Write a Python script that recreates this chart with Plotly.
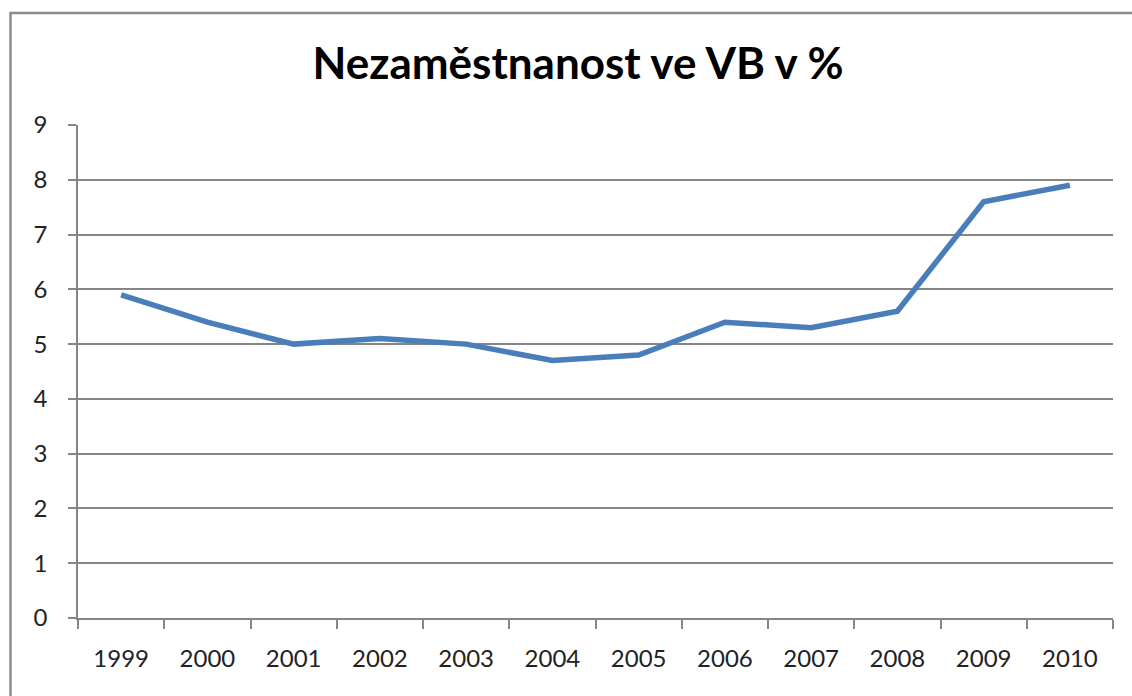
import plotly.graph_objects as go

years = ["1999", "2000", "2001", "2002", "2003", "2004", "2005", "2006", "2007", "2008", "2009", "2010"]
unemployment = [5.9, 5.4, 5.0, 5.1, 5.0, 4.7, 4.8, 5.4, 5.3, 5.6, 7.6, 7.9]
y_ticks = [0, 1, 2, 3, 4, 5, 6, 7, 8, 9]

W, H = 1132, 696
L, R, T, B = 78, 19, 124.5, 78
pw, ph = W - L - R, H - T - B

fig = go.Figure()
fig.add_trace(go.Scatter(x=years, y=unemployment, mode="lines",
                         line=dict(color="#4A7EBB", width=5.5), hoverinfo="x+y"))

grid = "#868686"
fig.update_layout(
    width=W, height=H,
    margin=dict(l=L, r=R, t=T, b=B, pad=0),
    paper_bgcolor="white", plot_bgcolor="white",
    showlegend=False,
    font=dict(family="Lato, Carlito, 'Open Sans', sans-serif", color="#222222"),
    title=dict(text="<b>Nezaměstnanost ve VB v %</b>", x=578 / W, xanchor="center",
               y=1 - 64 / H, yanchor="middle", yref="container",
               font=dict(size=44, color="#000000")),
    xaxis=dict(type="category", range=[-0.5, 11.5], showgrid=False,
               showline=True, linecolor=grid, linewidth=1.5,
               ticks="outside", tickson="boundaries", ticklen=9, tickcolor=grid, tickwidth=1.5,
               tickfont=dict(size=24, color="#222222"), ticklabelstandoff=18),
    yaxis=dict(range=[0, 9], tickvals=y_ticks, showgrid=True, gridcolor=grid, gridwidth=1.5,
               showline=True, linecolor=grid, linewidth=1.5, zeroline=False,
               ticks="outside", ticklen=8, tickcolor=grid, tickwidth=1.5,
               tickfont=dict(size=24, color="#222222"), ticklabelstandoff=16),
    shapes=[dict(type="rect", xref="paper", yref="paper",
                 x0=(10.5 - L) / pw, x1=(W + 20 - L) / pw,
                 y0=-(B + 20) / ph, y1=(H - B - 12.5) / ph,
                 line=dict(color="#8C8C8C", width=2.5), fillcolor="rgba(0,0,0,0)", layer="below")],
)

fig.write_html("out.html", config={"displayModeBar": False},
               post_script="document.body.style.margin='0';")
